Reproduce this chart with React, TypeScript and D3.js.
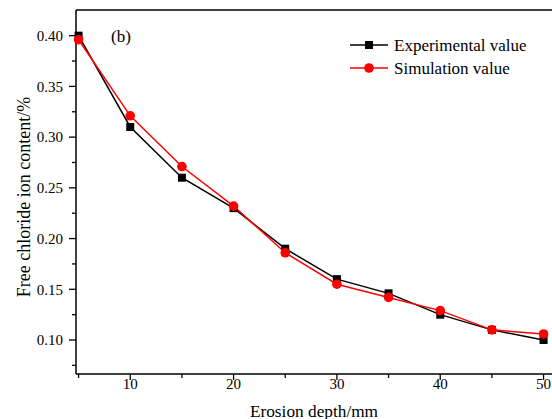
import React from "react";
import * as d3 from "d3";

const depths = [5, 10, 15, 20, 25, 30, 35, 40, 45, 50];
const experimental = [0.4, 0.31, 0.26, 0.23, 0.19, 0.16, 0.146, 0.125, 0.11, 0.1];
const simulation = [0.396, 0.321, 0.271, 0.232, 0.186, 0.155, 0.142, 0.129, 0.11, 0.106];
const xMajor = [10, 20, 30, 40, 50];
const xMinor = [5, 15, 25, 35, 45];
const yMajor = [0.1, 0.15, 0.2, 0.25, 0.3, 0.35, 0.4];
const yMinor = [0.075, 0.125, 0.175, 0.225, 0.275, 0.325, 0.375];
const seriesNames = ["Experimental value", "Simulation value"];

const W = 552, H = 419;
const left = 76, top = 10, bottom = 374;
const x = d3.scaleLinear().domain([4.75, 51.5]).range([left, left + (51.5 - 4.75) * 10.333]);
const y = d3.scaleLinear().domain([0.0665, 0.4253]).range([bottom, top]);
const font = "'Liberation Serif', 'Times New Roman', serif";

export default function App() {
  const line = d3.line<number>().x((_, i) => x(depths[i])).y((d) => y(d));
  return (
    <svg width={W} height={H} style={{ position: "absolute", left: 0, top: 0 }}>
      <rect width={W} height={H} fill="#fff" />
      <line x1={left} x2={W} y1={top} y2={top} stroke="#000" strokeWidth={1.5} />
      <line x1={left} x2={left} y1={top} y2={bottom} stroke="#000" strokeWidth={1.5} />
      <line x1={left} x2={W} y1={bottom} y2={bottom} stroke="#000" strokeWidth={1.5} />
      {yMajor.map((v) => (
        <g key={v}>
          <line x1={left - 7} x2={left} y1={y(v)} y2={y(v)} stroke="#000" strokeWidth={1.3} />
          <text x={63} y={y(v)} dy="0.35em" textAnchor="end" fontFamily={font} fontSize={15}>{v.toFixed(2)}</text>
        </g>
      ))}
      {yMinor.map((v) => (
        <line key={v} x1={left - 4} x2={left} y1={y(v)} y2={y(v)} stroke="#000" strokeWidth={1.3} />
      ))}
      {xMajor.map((v) => (
        <g key={v}>
          <line x1={x(v)} x2={x(v)} y1={bottom} y2={bottom + 6} stroke="#000" strokeWidth={1.3} />
          <text x={x(v)} y={389} textAnchor="middle" fontFamily={font} fontSize={15}>{v}</text>
        </g>
      ))}
      {xMinor.map((v) => (
        <line key={v} x1={x(v)} x2={x(v)} y1={bottom} y2={bottom + 4} stroke="#000" strokeWidth={1.3} />
      ))}
      <text x={314} y={417} textAnchor="middle" fontFamily={font} fontSize={17.3}>Erosion depth/mm</text>
      <text transform="translate(29.5,197) rotate(-90)" textAnchor="middle" fontFamily={font} fontSize={18}>Free chloride ion content/%</text>
      <text x={111} y={42} fontFamily={font} fontSize={17}>(b)</text>

      <path d={line(experimental) ?? ""} fill="none" stroke="#000" strokeWidth={1.5} />
      <path d={line(simulation) ?? ""} fill="none" stroke="#ff0000" strokeWidth={1.5} />
      {experimental.map((v, i) => (
        <rect key={i} x={x(depths[i]) - 4} y={y(v) - 4} width={8} height={8} fill="#000" />
      ))}
      {simulation.map((v, i) => (
        <circle key={i} cx={x(depths[i])} cy={y(v)} r={4.8} fill="#ff0000" />
      ))}

      <line x1={350} x2={388} y1={45} y2={45} stroke="#000" strokeWidth={1.5} />
      <rect x={365} y={41} width={8} height={8} fill="#000" />
      <text x={394} y={45} dy="0.35em" fontFamily={font} fontSize={17}>{seriesNames[0]}</text>
      <line x1={350} x2={388} y1={68} y2={68} stroke="#ff0000" strokeWidth={1.5} />
      <circle cx={369} cy={68} r={4.8} fill="#ff0000" />
      <text x={394} y={68} dy="0.35em" fontFamily={font} fontSize={17}>{seriesNames[1]}</text>
    </svg>
  );
}
